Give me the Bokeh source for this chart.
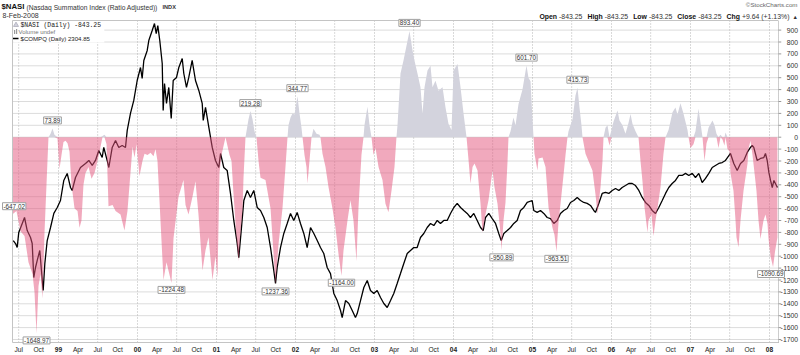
from bokeh.plotting import figure
from bokeh.models import Range1d, LogScale, Label
from bokeh.embed import file_html
from bokeh.resources import INLINE

# ---------------- data (decimal years) ----------------
nasi_t = [1998.418, 1998.468, 1998.519, 1998.570, 1998.620, 1998.671, 1998.696, 1998.722, 1998.747, 1998.772,
          1998.797, 1998.823, 1998.848, 1998.873, 1998.899, 1998.924, 1998.949, 1998.987, 1999.013, 1999.038,
          1999.063, 1999.089, 1999.114, 1999.139, 1999.165, 1999.203, 1999.241, 1999.266, 1999.291, 1999.316,
          1999.342, 1999.380, 1999.418, 1999.456, 1999.494, 1999.532, 1999.557, 1999.582, 1999.608, 1999.633,
          1999.684, 1999.722, 1999.785, 1999.835, 1999.873, 1999.911, 1999.937, 1999.962, 1999.987, 2000.025,
          2000.063, 2000.089, 2000.127, 2000.165, 2000.203, 2000.228, 2000.253, 2000.291, 2000.329, 2000.367,
          2000.430, 2000.456, 2000.519, 2000.582, 2000.608, 2000.646, 2000.696, 2000.734, 2000.772, 2000.823,
          2000.861, 2000.899, 2000.949, 2000.987, 2001.013, 2001.038, 2001.063, 2001.114, 2001.165, 2001.190,
          2001.215, 2001.253, 2001.278, 2001.304, 2001.329, 2001.342, 2001.367, 2001.405, 2001.430, 2001.456,
          2001.481, 2001.506, 2001.532, 2001.557, 2001.620, 2001.684, 2001.722, 2001.747, 2001.785, 2001.835,
          2001.873, 2001.899, 2001.911, 2001.937, 2001.962, 2001.987, 2002.025, 2002.051, 2002.076, 2002.089,
          2002.114, 2002.139, 2002.152, 2002.177, 2002.203, 2002.228, 2002.266, 2002.304, 2002.316, 2002.342,
          2002.380, 2002.418, 2002.468, 2002.506, 2002.544, 2002.582, 2002.608, 2002.658, 2002.696, 2002.734,
          2002.772, 2002.797, 2002.835, 2002.861, 2002.873, 2002.911, 2002.937, 2002.962, 2002.987, 2003.013,
          2003.051, 2003.101, 2003.139, 2003.177, 2003.215, 2003.253, 2003.278, 2003.291, 2003.329, 2003.367,
          2003.418, 2003.443, 2003.481, 2003.506, 2003.544, 2003.582, 2003.608, 2003.633, 2003.671, 2003.709,
          2003.734, 2003.772, 2003.810, 2003.861, 2003.899, 2003.937, 2003.975, 2004.000, 2004.051, 2004.089,
          2004.127, 2004.165, 2004.190, 2004.215, 2004.241, 2004.266, 2004.304, 2004.342, 2004.367, 2004.405,
          2004.443, 2004.494, 2004.519, 2004.557, 2004.595, 2004.608, 2004.633, 2004.658, 2004.684, 2004.696,
          2004.722, 2004.759, 2004.785, 2004.823, 2004.873, 2004.924, 2004.949, 2004.975, 2005.000, 2005.013,
          2005.025, 2005.063, 2005.076, 2005.127, 2005.165, 2005.203, 2005.253, 2005.278, 2005.304, 2005.329,
          2005.380, 2005.418, 2005.443, 2005.456, 2005.506, 2005.544, 2005.570, 2005.595, 2005.620, 2005.633,
          2005.671, 2005.709, 2005.759, 2005.797, 2005.823, 2005.861, 2005.886, 2005.899, 2005.924, 2005.949,
          2005.975, 2006.000, 2006.025, 2006.076, 2006.101, 2006.139, 2006.177, 2006.215, 2006.241, 2006.266,
          2006.304, 2006.342, 2006.367, 2006.392, 2006.418, 2006.456, 2006.468, 2006.506, 2006.532, 2006.557,
          2006.582, 2006.620, 2006.658, 2006.684, 2006.722, 2006.772, 2006.810, 2006.835, 2006.873, 2006.911,
          2006.962, 2006.975, 2007.000, 2007.038, 2007.063, 2007.101, 2007.127, 2007.152, 2007.177, 2007.203,
          2007.228, 2007.278, 2007.304, 2007.329, 2007.354, 2007.380, 2007.405, 2007.430, 2007.443, 2007.468,
          2007.494, 2007.506, 2007.544, 2007.570, 2007.582, 2007.608, 2007.633, 2007.671, 2007.722, 2007.734,
          2007.759, 2007.785, 2007.797, 2007.835, 2007.861, 2007.886, 2007.911, 2007.924, 2007.949, 2007.975,
          2007.987, 2008.013, 2008.045, 2008.070, 2008.100]
nasi_v = [-647.02, -620, -790, -830, -1050, -1150, -1300, -1648.97, -1250, -1150,
          -1355, -800, -400, 0, 30, 73.89, 20, -10, -265, -150,
          -40, -30, -50, -120, -400, -600, -620, -760, -700, -400,
          -300, -250, -350, -300, -200, -80, 10, 20, -60, -580,
          -570, -620, -650, -785, -620, -300, -80, -170, -60, -325,
          -200, -140, -150, -130, -160, -100, -200, -700, -1200, -1050,
          -1224.48, -850, -500, -360, -570, -650, -500, -370, -650, -1120,
          -950, -840, -1200, -1000, -1180, -300, -150, 0, -150, -200,
          -475, -840, -1040, -800, -615, -340, 0, 150, 219.28, 150,
          50, 0, -200, -340, -360, -600, -980, -1237.36, -900, -600,
          -250, 0, 100, 165, 200, 190, 344.77, 200, 80, 0,
          -150, -250, -390, -200, 0, 70, 30, 20, 0, -140,
          -250, -420, -600, -760, -980, -1164.00, -950, -700, -530, -700,
          -1040, -600, -150, 0, 100, 255, 100, 0, -150, -90,
          -250, -360, -560, -630, -450, -250, 0, 100, 535, 645,
          810, 893.40, 730, 645, 535, 420, 200, 420, 560, 600,
          420, 475, 390, 420, 250, 110, 60, 560, 615, 420,
          200, 0, -190, -390, -250, -220, -280, -560, -800, -650,
          -530, -280, -420, -560, -810, -950.89, -700, -550, -200, 0,
          50, 165, 100, 280, 400, 601.70, 500, 470, 150, 0,
          -140, -280, -180, -170, -250, -590, -760, -820, -963.51, -720,
          -400, -150, 0, 50, 150, 350, 415.73, 250, 100, 0,
          -140, -200, -280, -480, -645, -420, -200, 0, 80, 100,
          -70, 60, 130, 225, 140, 100, 30, 120, 195, 110,
          50, 0, -200, -370, -590, -800, -700, -650, -830, -700,
          -600, -420, -140, 0, 60, 210, 250, 190, 285, 200,
          60, 0, -90, -60, 50, 240, 120, 0, -200, -50,
          80, 140, 100, 30, -90, 20, -20, -70, 40, -100,
          -120, -300, -450, -700, -840, -925, -700, -450, -220, -100,
          -30, -150, -220, -450, -700, -855, -750, -700, -650, -730,
          -850, -1000, -1090.69, -960, -843.25]

compq_t = [1998.427, 1998.456, 1998.477, 1998.497, 1998.541, 1998.570, 1998.604, 1998.646, 1998.667, 1998.687,
           1998.709, 1998.730, 1998.763, 1998.781, 1998.806, 1998.827, 1998.857, 1998.899, 1998.941, 1998.984,
           1999.025, 1999.067, 1999.110, 1999.152, 1999.173, 1999.215, 1999.278, 1999.342, 1999.384, 1999.427,
           1999.468, 1999.510, 1999.553, 1999.573, 1999.616, 1999.637, 1999.680, 1999.722, 1999.763, 1999.806,
           1999.848, 1999.870, 1999.911, 1999.953, 1999.996, 2000.038, 2000.059, 2000.080, 2000.123, 2000.143,
           2000.186, 2000.215, 2000.237, 2000.257, 2000.282, 2000.313, 2000.325, 2000.342, 2000.367, 2000.396,
           2000.427, 2000.452, 2000.494, 2000.523, 2000.566, 2000.586, 2000.620, 2000.649, 2000.692, 2000.734,
           2000.776, 2000.819, 2000.832, 2000.861, 2000.903, 2000.946, 2000.987, 2001.029, 2001.051, 2001.092,
           2001.135, 2001.177, 2001.219, 2001.262, 2001.282, 2001.313, 2001.346, 2001.389, 2001.430, 2001.472,
           2001.515, 2001.557, 2001.599, 2001.642, 2001.684, 2001.725, 2001.747, 2001.768, 2001.810, 2001.852,
           2001.895, 2001.937, 2001.978, 2002.021, 2002.063, 2002.105, 2002.148, 2002.190, 2002.232, 2002.275,
           2002.316, 2002.358, 2002.401, 2002.443, 2002.485, 2002.528, 2002.570, 2002.591, 2002.633, 2002.675,
           2002.718, 2002.759, 2002.781, 2002.823, 2002.865, 2002.908, 2002.949, 2002.991, 2003.034, 2003.076,
           2003.118, 2003.161, 2003.203, 2003.244, 2003.287, 2003.329, 2003.371, 2003.414, 2003.456, 2003.497,
           2003.540, 2003.582, 2003.624, 2003.667, 2003.709, 2003.751, 2003.794, 2003.835, 2003.877, 2003.920,
           2003.962, 2004.004, 2004.047, 2004.089, 2004.130, 2004.173, 2004.215, 2004.257, 2004.300, 2004.342,
           2004.376, 2004.405, 2004.447, 2004.490, 2004.532, 2004.573, 2004.604, 2004.637, 2004.680, 2004.722,
           2004.763, 2004.806, 2004.848, 2004.890, 2004.933, 2004.996, 2005.016, 2005.059, 2005.101, 2005.143,
           2005.186, 2005.228, 2005.270, 2005.313, 2005.354, 2005.396, 2005.439, 2005.481, 2005.523, 2005.566,
           2005.608, 2005.649, 2005.692, 2005.734, 2005.776, 2005.797, 2005.839, 2005.882, 2005.924, 2005.966,
           2006.009, 2006.051, 2006.093, 2006.135, 2006.177, 2006.219, 2006.262, 2006.304, 2006.346, 2006.389,
           2006.430, 2006.472, 2006.515, 2006.557, 2006.599, 2006.642, 2006.684, 2006.725, 2006.768, 2006.810,
           2006.852, 2006.895, 2006.937, 2006.979, 2007.022, 2007.063, 2007.105, 2007.148, 2007.190, 2007.232,
           2007.275, 2007.316, 2007.358, 2007.401, 2007.443, 2007.506, 2007.548, 2007.591, 2007.633, 2007.675,
           2007.718, 2007.759, 2007.781, 2007.801, 2007.844, 2007.886, 2007.928, 2007.949, 2007.971, 2007.992,
           2008.013, 2008.035, 2008.056, 2008.100]
compq_v = [1646, 1621, 1588, 1716, 1797, 1853, 1733, 1672, 1621, 1361,
           1433, 1485, 1564, 1433, 1273, 1463, 1646, 1760, 1892, 1951,
           2022, 2242, 2324, 2162, 2129, 2276, 2396, 2446, 2484, 2421,
           2484, 2615, 2522, 2656, 2484, 2396, 2656, 2753, 2656, 2683,
           2656, 2899, 3164, 3382, 3747, 4006, 3786, 4153, 4372, 4601,
           4843, 5020, 4770, 4969, 4601, 4089, 3213, 3690, 3331, 3615,
           3083, 3747, 3806, 4006, 4196, 3884, 3615, 3806, 4153, 3747,
           3560, 3331, 3052, 3263, 2944, 2656, 2484, 2396, 2575, 2396,
           2360, 2097, 1825, 1621, 1508, 1733, 2022, 2129, 2054, 2129,
           1951, 1921, 1853, 1760, 1588, 1411, 1320, 1433, 1588, 1707,
           1797, 1892, 1825, 1902, 1797, 1707, 1588, 1760, 1707, 1646,
           1588, 1540, 1433, 1389, 1254, 1209, 1149, 1108, 1209, 1191,
           1149, 1108, 1131, 1209, 1293, 1340, 1273, 1254, 1273, 1228,
           1191, 1167, 1209, 1254, 1320, 1389, 1463, 1540, 1564, 1588,
           1588, 1672, 1707, 1760, 1797, 1778, 1825, 1797, 1825, 1825,
           1892, 1951, 1992, 1951, 1921, 1892, 1853, 1892, 1825, 1760,
           1733, 1853, 1892, 1843, 1797, 1707, 1646, 1707, 1733, 1760,
           1797, 1825, 1921, 1951, 2002, 2022, 1921, 1902, 1921, 1892,
           1853, 1843, 1797, 1825, 1892, 1921, 1941, 2002, 2022, 2054,
           2022, 2002, 1992, 1971, 1921, 1902, 1992, 2097, 2108, 2097,
           2129, 2151, 2129, 2162, 2184, 2207, 2207, 2184, 2129, 2054,
           2002, 1971, 1921, 1892, 1951, 2022, 2097, 2162, 2207, 2242,
           2300, 2300, 2324, 2300, 2324, 2276, 2324, 2218, 2265, 2324,
           2396, 2421, 2446, 2458, 2484, 2575, 2446, 2360, 2446, 2484,
           2589, 2656, 2683, 2656, 2484, 2510, 2522, 2575, 2484, 2336,
           2242, 2162, 2242, 2162]

# annotated extremes
ann_t = [1998.924, 1998.722, 2000.430, 2001.430, 2001.747, 2002.025, 2002.582, 2003.443, 2004.608,
         2004.924, 2005.304, 2005.570, 2008.045]
ann_v = [73.89, -1648.97, -1224.48, 219.28, -1237.36, 344.77, -1164.00, 893.40, -950.89,
         601.70, -963.51, 415.73, -1090.69]
ann_txt = ["73.89", "-1648.97", "-1224.48", "219.28", "-1237.36", "344.77", "-1164.00", "893.40", "-950.89",
           "601.70", "-963.51", "415.73", "-1090.69"]

y_ticks = list(range(-1700, 1000, 100))
q_ticks = [1998.496, 1998.748] + [y + f for y in range(1999, 2008) for f in (0.0, 0.247, 0.496, 0.748)] + [2008.0]
q_labels = ["Jul", "Oct"] + [lab for y in range(1999, 2008) for lab in (("%02d" % (y % 100)), "Apr", "Jul", "Oct")] + ["08"]
halfyear_ticks = [1998.496] + [y + f for y in range(1999, 2008) for f in (0.0, 0.496)] + [2008.0]

ohlc_parts = [("Open", "-843.25"), ("High", "-843.25"), ("Low", "-843.25"), ("Close", "-843.25"),
              ("Chg", "+9.64 (+1.13%)")]

# ---------------- layout ----------------
W, H = 800, 355
X0, X1 = 1998.2658, 2008.3924      # whole canvas, px 0 .. 800
Y0, Y1 = -1834.45, 1148.77         # whole canvas, px 355 .. 0
T0, T1 = 1998.4177, 2008.1139      # plot area, px 12 .. 778
V0, V1 = -1725.2, 980.7            # plot area, px 342 .. 20


def px_x(xi):
    return X0 + xi * (X1 - X0) / W


def px_y(yi):
    return Y1 - yi * (Y1 - Y0) / H


p = figure(width=W, height=H, output_backend="svg", toolbar_location=None,
           x_range=Range1d(X0, X1), y_range=Range1d(Y0, Y1),
           x_axis_location=None, y_axis_location=None,
           min_border_left=0, min_border_right=0, min_border_top=0, min_border_bottom=0)
p.extra_y_ranges = {"compq": Range1d(911.7, 5652.1)}
p.extra_y_scales = {"compq": LogScale()}
p.outline_line_color = None
p.background_fill_color = "white"
p.border_fill_color = "white"
p.xgrid.visible = False
p.ygrid.visible = False

# grid lines
p.segment(x0=[T0] * len(y_ticks), x1=[T1] * len(y_ticks), y0=y_ticks, y1=y_ticks,
          line_color="#dcdcdc", line_width=1)
p.segment(x0=halfyear_ticks, x1=halfyear_ticks, y0=[V0] * len(halfyear_ticks), y1=[V1] * len(halfyear_ticks),
          line_color="#b4b4b4", line_width=1, line_dash="1 2")

# legend background (white patch over the grid)
p.quad(left=[T0 + 0.01], right=[1999.58], top=[V1 - 5], bottom=[795], fill_color="white", line_color=None)

neg = [min(v, 0) for v in nasi_v]
pos = [max(v, 0) for v in nasi_v]

p.line(compq_t, compq_v, y_range_name="compq", line_color="black", line_width=1.3)
p.varea(x=nasi_t, y1=[0] * len(nasi_t), y2=pos, fill_color="#d3d3dd", fill_alpha=1.0)
p.varea(x=nasi_t, y1=[0] * len(nasi_t), y2=neg, fill_color="#e4547c", fill_alpha=0.5)

# plot-area border
p.segment(x0=[T0, T0, T0], x1=[T0, T1, T1], y0=[V0, V0, V1], y1=[V1, V0, V1], line_color="#c4c4c4", line_width=1)
p.segment(x0=[T1], x1=[T1], y0=[V0], y1=[V1], line_color="#9a9a9a", line_width=1, line_dash="1 1")
p.segment(x0=[T1] * len(y_ticks), x1=[T1 + 0.035] * len(y_ticks), y0=y_ticks, y1=y_ticks,
          line_color="#9a9a9a", line_width=1)

# legend icons
p.scatter([px_x(15.5)], [px_y(24.5)], marker="triangle", size=5, fill_color="#d3d3dd", line_color="#b8b8c4")
p.quad(left=[px_x(13.5), px_x(15.5)], right=[px_x(14.7), px_x(16.7)],
       bottom=[px_y(33.5), px_y(33.5)], top=[px_y(29.5), px_y(28.5)], fill_color="#999999", line_color=None)
p.segment(x0=[px_x(12.5)], x1=[px_x(18)], y0=[px_y(38)], y1=[px_y(38)], line_color="black", line_width=1.6)

SANS = "Liberation Sans"


def txt(s, xi, yi, size=6.3, bold=False, color="#222222", align="left", font=SANS):
    p.add_layout(Label(x=xi, y=H - yi, x_units="screen", y_units="screen", text=s,
                       text_font=font, text_font_size="%.1fpx" % size,
                       text_font_style="bold" if bold else "normal", text_color=color,
                       text_align=align, text_baseline="middle"))


# header
txt("$NASI", 1, 6, size=7.8, bold=True, color="#111111")
txt("(Nasdaq Summation Index (Ratio Adjusted))", 26, 6.5, size=6.7, color="#333333")
txt("INDX", 162, 6.5, size=5.6, bold=True, color="#333333")
txt("8-Feb-2008", 2, 14.5, size=7.0, color="#333333")
txt("\u00a9StockCharts.com", 797, 3.5, size=6.2, color="#666666", align="right")

# Open/High/Low/Close line, laid out right-aligned with explicit gaps
WID = {'-': .333, '.': .278, '+': .584, '(': .333, ')': .333, '%': .889, ' ': .278,
       'O': .778, 'p': .611, 'e': .556, 'n': .611, 'H': .722, 'i': .278, 'g': .611, 'h': .611,
       'L': .611, 'o': .611, 'w': .778, 'C': .722, 'l': .278, 's': .556}
fs = 6.9


def tw(s):
    return sum(WID.get(c, .556) for c in s) * fs


items = []
for k, (name, val) in enumerate(ohlc_parts):
    items.append((name, True, tw(name) + 2))
    items.append((val, False, tw(val) + (5 if k < len(ohlc_parts) - 1 else 3)))
items.append(("\u25b2", False, 5))
xcur = 797 - sum(w for _, _, w in items)
for s, b, wdt in items:
    txt(s, xcur, 16, size=fs if s != "\u25b2" else 5.5, bold=b, color="#111111" if b else "#333333")
    xcur += wdt

# legend texts
txt("$NASI (Daily) -843.25", 20, 24.5, size=6.4, color="#222222", font="Liberation Mono")
txt("Volume undef", 18, 31, size=6.0, color="#777777")
txt("$COMPQ (Daily) 2304.85", 20, 38, size=6.1, color="#222222")

# right axis labels
for v in y_ticks:
    p.add_layout(Label(x=797.5, y=v, x_units="screen", y_units="data", text=str(v),
                       text_font=SANS, text_font_size="6.8px", text_color="#333333",
                       text_align="right", text_baseline="middle"))

# x axis labels
for t, s in zip(q_ticks, q_labels):
    bold = s not in ("Apr", "Jul", "Oct")
    p.add_layout(Label(x=t, y=H - 348.5, x_units="data", y_units="screen", text=s,
                       text_font=SANS, text_font_size="6.6px", text_font_style="bold" if bold else "normal",
                       text_color="#222222", text_align="center", text_baseline="middle"))

# value annotations
for t, v, s in zip(ann_t, ann_v, ann_txt):
    up = v > 0
    p.add_layout(Label(x=t, y=v, text=s, x_offset=(-2 if t > 2008 else 0), y_offset=(8 if up else -7),
                       text_font=SANS, text_font_size="6.3px", text_color="#333333",
                       text_align="center", text_baseline="middle",
                       background_fill_color="white", background_fill_alpha=1.0,
                       border_line_color="#a0a0a0", border_line_width=1, padding=1))
p.add_layout(Label(x=nasi_t[0], y=nasi_v[0], text="-647.02", x_offset=-10, y_offset=8,
                   text_font=SANS, text_font_size="6.3px", text_color="#333333",
                   text_align="left", text_baseline="middle",
                   background_fill_color="white", background_fill_alpha=1.0,
                   border_line_color="#a0a0a0", border_line_width=1, padding=1))

open("out.html", "w").write(file_html(p, INLINE))
